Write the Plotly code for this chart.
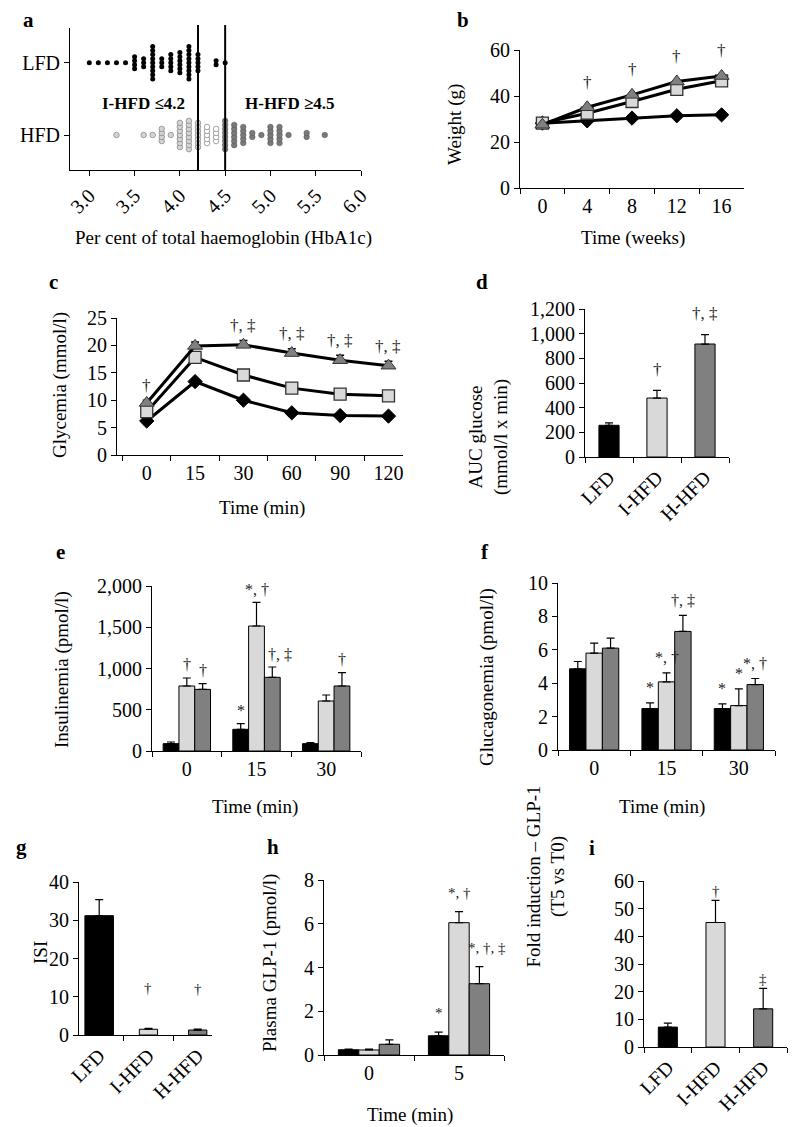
import plotly.graph_objects as go
from collections import Counter

FONT = "Liberation Serif"
VW, VH = 800, 1127          # browser window
OX, OY = 8, 8               # default page margin around the plot div
W, H = VW - OX, VH - OY     # figure size that fills the window
BLACK, LIGHT, DARK = "#000000", "#d9d9d9", "#808080"

# ---------------- data ----------------
groups = ["LFD", "I-HFD", "H-HFD"]
group_colors = [BLACK, LIGHT, DARK]

# (a) HbA1c distribution
hba1c_lfd = ([3.0, 3.1, 3.2, 3.3, 3.4] + [3.5] * 4 + [3.6] * 3 + [3.7] * 9 + [3.8] * 3
             + [3.9] * 5 + [4.0] * 6 + [4.1] * 9 + [4.2] * 5 + [4.4] * 2 + [4.5])
hba1c_ihfd = [3.3, 3.6, 3.7] + [3.8] * 4 + [3.9] + [4.0] * 7 + [4.1] * 8 + [4.2] * 7
hba1c_excl = [4.3] * 5 + [4.4] * 4
hba1c_hhfd = ([4.5] * 8 + [4.6] * 6 + [4.7] * 5 + [4.8] * 2 + [4.9] + [5.0] * 5 + [5.1] * 5
              + [5.2] + [5.4] * 2 + [5.6])
thresholds = [4.2, 4.5]
hba1c_ticks = [3.0, 3.5, 4.0, 4.5, 5.0, 5.5, 6.0]

# (b) body weight
weeks = ["0", "4", "8", "12", "16"]
weight_lfd = [28.2, 29.2, 30.4, 31.4, 31.8]
weight_ihfd = [28.2, 32.5, 37.6, 42.9, 46.6]
weight_hhfd = [27.5, 35.1, 40.5, 46.3, 48.7]
weight_marks = ["", "†", "†", "†", "†"]

# (c) OGTT glycemia
ogtt_time = ["0", "15", "30", "60", "90", "120"]
gly_lfd = [6.2, 13.4, 10.0, 7.7, 7.2, 7.1]
gly_ihfd = [7.9, 17.8, 14.6, 12.2, 11.1, 10.8]
gly_hhfd = [9.5, 19.9, 20.1, 18.6, 17.3, 16.3]
gly_hhfd_err = [0.5, 0.7, 0.8, 0.8, 0.9, 0.8]
gly_marks = ["†", "", "†, ‡", "†, ‡", "†, ‡", "†, ‡"]

# (d) AUC glucose
auc = [257, 478, 916]
auc_err = [19, 62, 76]
auc_marks = ["", "†", "†, ‡"]

# (e) insulinemia
ins_time = ["0", "15", "30"]
ins = {"LFD": [89, 263, 89], "I-HFD": [788, 1515, 606], "H-HFD": [747, 893, 788]}
ins_err = {"LFD": [20, 68, 12], "I-HFD": [97, 287, 73], "H-HFD": [69, 125, 161]}
ins_marks = {"LFD": ["", "*", ""], "I-HFD": ["†", "*, †", ""], "H-HFD": ["†", "†, ‡", "†"]}

# (f) glucagonemia
glu_time = ["0", "15", "30"]
glu = {"LFD": [4.86, 2.48, 2.48], "I-HFD": [5.8, 4.08, 2.66], "H-HFD": [6.1, 7.1, 3.92]}
glu_err = {"LFD": [0.44, 0.34, 0.28], "I-HFD": [0.6, 0.54, 1.0], "H-HFD": [0.6, 0.96, 0.36]}
glu_marks = {"LFD": ["", "*", "*"], "I-HFD": ["", "*, †", "*"], "H-HFD": ["", "†, ‡", "*, †"]}

# (g) ISI
isi = [31.2, 1.5, 1.3]
isi_err = [4.2, 0.25, 0.25]
isi_marks = ["", "†", "†"]

# (h) plasma GLP-1
glp_time = ["0", "5"]
glp = {"LFD": [0.24, 0.88], "I-HFD": [0.23, 6.05], "H-HFD": [0.49, 3.26]}
glp_err = {"LFD": [0.03, 0.17], "I-HFD": [0.04, 0.5], "H-HFD": [0.2, 0.78]}
glp_marks = {"LFD": ["", "*"], "I-HFD": ["", "*, †"], "H-HFD": ["", "*, †, ‡"]}

# (i) fold induction GLP-1
fold = [7.2, 45.0, 13.8]
fold_err = [1.4, 8.0, 7.4]
fold_marks = ["", "†", "‡"]

# ---------------- layout helpers ----------------
BARGAP = 0.32


def fx(px):
    return (px - OX) / W


def fy(py):
    return 1 - (py - OY) / H


def xdom(x0, x1):
    return [fx(x0), fx(x1)]


def ydom(top, bottom):
    return [fy(bottom), fy(top)]


# plot boxes in window pixels: (left, right, top, bottom)
boxes = {
    1: (70, 361, 28, 170),
    2: (520, 744, 50, 188),
    3: (117, 403, 318, 455),
    4: (585, 729, 309, 457),
    5: (152, 361, 586, 751),
    6: (558, 775, 583, 750),
    7: (79, 212, 882, 1035),
    8: (324, 504, 880, 1055),
    9: (644, 787, 881, 1047),
}

base = dict(showline=True, linecolor="black", linewidth=1, ticks="outside", ticklen=5,
            tickwidth=1, tickcolor="black", showgrid=False, zeroline=False, automargin=False,
            tickfont=dict(family=FONT, size=20, color="black"), fixedrange=True)


def sfx(i):
    return "" if i == 1 else str(i)


fig = go.Figure()
layout_axes = {}
for i, (x0, x1, t, b) in boxes.items():
    layout_axes["xaxis" + sfx(i)] = dict(base, domain=xdom(x0, x1), anchor="y" + sfx(i))
    layout_axes["yaxis" + sfx(i)] = dict(base, domain=ydom(t, b), anchor="x" + sfx(i))

annotations = []
shapes = []


def note(text, px, py, size=19, angle=0, bold=False):
    annotations.append(dict(
        text=f"<b>{text}</b>" if bold else text, xref="paper", yref="paper",
        x=fx(px), y=fy(py), xanchor="center", yanchor="middle",
        showarrow=False, textangle=angle, font=dict(family=FONT, size=size, color="black")))


def mark(text, i, x, y, shift, size=15, xshift=0):
    if not text:
        return
    annotations.append(dict(text=text, xref="x" + sfx(i), yref="y" + sfx(i), x=x, y=y,
                            xanchor="center", yanchor="middle", yshift=shift, xshift=xshift,
                            showarrow=False, font=dict(family=FONT, size=size, color="#222222")))


def up_err(err, thick=1.2):
    return dict(type="data", array=err, arrayminus=[0] * len(err), symmetric=False,
                color="black", thickness=thick, width=4)


# ---------------- (a) ----------------
def stack(values, spacing):
    counts = Counter(values)
    seen = {}
    out = []
    for v in values:
        k = seen.get(v, 0)
        seen[v] = k + 1
        out.append((k - (counts[v] - 1) / 2) * spacing)
    return out


SP = 0.056
fig.add_trace(go.Scatter(x=hba1c_lfd, y=[1 + d for d in stack(hba1c_lfd, SP)], mode="markers",
                         marker=dict(size=5, color=BLACK), xaxis="x", yaxis="y"))
fig.add_trace(go.Scatter(x=hba1c_ihfd, y=stack(hba1c_ihfd, SP), mode="markers",
                         marker=dict(size=5.5, color="#d4d4d4", line=dict(color="#8c8c8c", width=0.8)),
                         xaxis="x", yaxis="y"))
fig.add_trace(go.Scatter(x=hba1c_excl, y=stack(hba1c_excl, SP), mode="markers",
                         marker=dict(size=5.5, color="white", line=dict(color="#8c8c8c", width=0.8)),
                         xaxis="x", yaxis="y"))
fig.add_trace(go.Scatter(x=hba1c_hhfd, y=stack(hba1c_hhfd, SP), mode="markers",
                         marker=dict(size=5.5, color="#7a7a7a", line=dict(color="#5a5a5a", width=0.6)),
                         xaxis="x", yaxis="y"))
for t in thresholds:
    shapes.append(dict(type="line", xref="x", yref="paper", x0=t, x1=t,
                       y0=fy(170), y1=fy(25), line=dict(color="black", width=2), layer="above"))
layout_axes["xaxis"].update(range=[2.787, 6.0], tickvals=hba1c_ticks,
                            ticktext=[f"{v:.1f}" for v in hba1c_ticks], tickangle=-45)
layout_axes["yaxis"].update(range=[-0.484, 1.48], tickvals=[0, 1], ticktext=["HFD", "LFD"])
note("I-HFD ≤4.2", 143, 103, size=17, bold=True)
note("H-HFD ≥4.5", 290, 103, size=17, bold=True)
note("Per cent of total haemoglobin (HbA1c)", 224, 238)

# ---------------- (b) ----------------
line_styles = [
    dict(symbol="diamond", size=11, color=BLACK, line=dict(color=BLACK, width=1)),
    dict(symbol="square", size=12, color=LIGHT, line=dict(color="#333333", width=1.3)),
    dict(symbol="triangle-up", size=13, color=DARK, line=dict(color="#333333", width=1)),
]
for ys, ms in zip([weight_lfd, weight_ihfd, weight_hhfd], line_styles):
    fig.add_trace(go.Scatter(x=weeks, y=ys, mode="lines+markers", line=dict(color=BLACK, width=3),
                             marker=ms, xaxis="x2", yaxis="y2"))
for k, (v, m) in enumerate(zip(weight_hhfd, weight_marks)):
    mark(m, 2, k, v, 25, size=17)
layout_axes["xaxis2"].update(type="category", tickson="boundaries", range=[-0.5, 4.5])
layout_axes["yaxis2"].update(range=[0, 60], dtick=20)
note("Weight (g)", 455, 125, angle=-90)
note("Time (weeks)", 633, 238)

# ---------------- (c) ----------------
for ys, ms, err in zip([gly_lfd, gly_ihfd, gly_hhfd], line_styles, [None, None, gly_hhfd_err]):
    fig.add_trace(go.Scatter(x=ogtt_time, y=ys, mode="lines+markers", line=dict(color=BLACK, width=3),
                             marker=ms, error_y=up_err(err, 1.5) if err else None,
                             xaxis="x3", yaxis="y3"))
for k, (v, e, m) in enumerate(zip(gly_hhfd, gly_hhfd_err, gly_marks)):
    mark(m, 3, k, v + e, 15, size=17)
layout_axes["xaxis3"].update(type="category", tickson="boundaries", range=[-0.615, 5.3])
layout_axes["yaxis3"].update(range=[0, 25], dtick=5)
note("Glycemia (mmol/l)", 60, 385, angle=-90)
note("Time (min)", 262, 508)


# ---------------- single-bar panels (d, g, i) ----------------
def single_bars(i, vals, errs, marks, width, shift, msize=15):
    fig.add_trace(go.Bar(x=groups, y=vals, width=width, marker=dict(color=group_colors,
                                                                    line=dict(color="black", width=1)),
                         error_y=up_err(errs), xaxis="x" + sfx(i), yaxis="y" + sfx(i)))
    for k, (v, e, m) in enumerate(zip(vals, errs, marks)):
        mark(m, i, k, v + e, shift, size=msize)
    layout_axes["xaxis" + sfx(i)].update(type="category", tickson="boundaries", tickangle=-45)


single_bars(4, auc, auc_err, auc_marks, 0.42, 21, msize=17)
layout_axes["xaxis4"].update(range=[-0.5, 2.5])
layout_axes["yaxis4"].update(range=[0, 1200], dtick=200, tickformat=",")
annotations.append(dict(text="AUC glucose<br>(mmol/l x min)", xref="paper", yref="paper",
                        x=fx(488), y=fy(377), showarrow=False, textangle=-90,
                        font=dict(family=FONT, size=19, color="black")))

single_bars(7, isi, isi_err, isi_marks, [0.58, 0.37, 0.37], 40)
layout_axes["xaxis7"].update(range=[-0.41, 2.29])
layout_axes["yaxis7"].update(range=[0, 40], dtick=10)
note("ISI", 40, 953, angle=-90)

single_bars(9, fold, fold_err, fold_marks, 0.4, 9)
layout_axes["xaxis9"].update(range=[-0.5, 2.5])
layout_axes["yaxis9"].update(range=[0, 60], dtick=10)
annotations.append(dict(text="Fold induction – GLP-1<br>(T5 vs T0)", xref="paper", yref="paper",
                        x=fx(571), y=fy(970), showarrow=False, textangle=-90,
                        font=dict(family=FONT, size=19, color="black")))


# ---------------- grouped-bar panels (e, f, h) ----------------
def grouped(i, cats, vals, errs, marks, shift, msize=15, wide_shift=0):
    bw = (1 - BARGAP) / 3
    for gi, (g, c) in enumerate(zip(groups, group_colors)):
        fig.add_trace(go.Bar(x=cats, y=vals[g], marker=dict(color=c, line=dict(color="black", width=1)),
                             error_y=up_err(errs[g]), xaxis="x" + sfx(i), yaxis="y" + sfx(i)))
        for ci, (v, e, m) in enumerate(zip(vals[g], errs[g], marks[g])):
            wide = len(m) > 3 and gi == 2
            mark(m, i, ci + (gi - 1) * bw, v + e, shift, size=msize,
                 xshift=wide_shift if wide else 0)
    layout_axes["xaxis" + sfx(i)].update(type="category", tickson="boundaries",
                                         range=[-0.5, len(cats) - 0.5])


grouped(5, ins_time, ins, ins_err, ins_marks, 13, msize=16, wide_shift=8)
layout_axes["yaxis5"].update(range=[0, 2000], dtick=500, tickformat=",")
note("Insulinemia (pmol/l)", 62, 669, angle=-90)
note("Time (min)", 255, 807)

grouped(6, glu_time, glu, glu_err, glu_marks, 15, msize=16)
layout_axes["yaxis6"].update(range=[0, 10], dtick=2)
note("Glucagonemia (pmol/l)", 487, 677, angle=-90)
note("Time (min)", 662, 807)

grouped(8, glp_time, glp, glp_err, glp_marks, 19, msize=15, wide_shift=8)
layout_axes["yaxis8"].update(range=[0, 8], dtick=2)
note("Plasma GLP-1 (pmol/l)", 270, 963, angle=-90)
note("Time (min)", 410, 1115)

# ---------------- panel letters ----------------
for letter, px, py in [("a", 28, 20), ("b", 463, 20), ("c", 53, 282), ("d", 482, 282),
                       ("e", 60, 552), ("f", 485, 552), ("g", 21, 847), ("h", 273, 847),
                       ("i", 592, 848)]:
    note(letter, px, py, size=21, bold=True)

fig.update_layout(
    width=W, height=H, autosize=False, margin=dict(l=0, r=0, t=0, b=0, pad=0, autoexpand=False),
    paper_bgcolor="white", plot_bgcolor="white", showlegend=False,
    barmode="group", bargap=BARGAP, bargroupgap=0,
    font=dict(family=FONT, size=19, color="black"),
    annotations=annotations, shapes=shapes, **layout_axes)

fig.write_html("out.html")
